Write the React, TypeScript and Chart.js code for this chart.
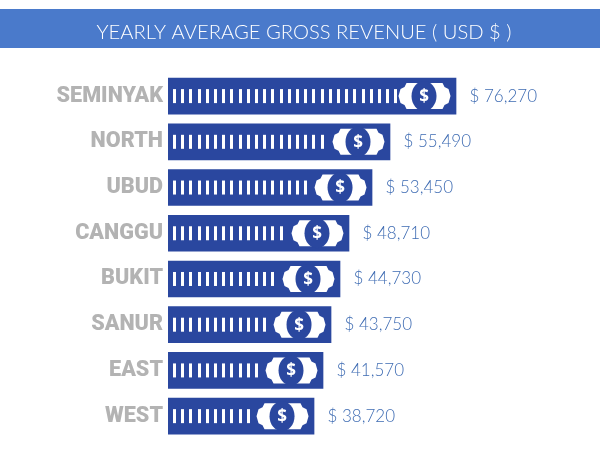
import React, { useEffect, useRef } from "react";
import { Chart, registerables } from "chart.js";

Chart.register(...registerables);

const areas = ["SEMINYAK", "NORTH", "UBUD", "CANGGU", "BUKIT", "SANUR", "EAST", "WEST"];
// Figures printed beside the bars
const revenue = [76270, 55490, 53450, 48710, 44730, 43750, 41570, 38720];
// Bar lengths as drawn in the picture (they do not all track the printed figures)
const barLengths = [76270, 58790, 54030, 47930, 45550, 43170, 41050, 38670];
const chartTitle = "YEARLY AVERAGE GROSS REVENUE ( USD $ )";

const BAR = "#2a479f";
const BANNER = "#4a7acb";
const VALUE = "#3f6cb3";
const LABEL = "#b3b3b3";

const decorate = {
  id: "decorate",
  beforeDraw(chart: any) {
    const { ctx } = chart;
    ctx.save();
    ctx.fillStyle = BANNER;
    ctx.fillRect(0, 9, 600, 39);
    ctx.restore();
  },
  afterDatasetsDraw(chart: any) {
    const { ctx } = chart;
    const bars = chart.getDatasetMeta(0).data;
    bars.forEach((bar: any, i: number) => {
      const xEnd = bar.x;
      const y = bar.y;
      const xBase = bar.base;
      const right = xEnd - 5.5;
      const left = right - 52;
      const cx = left + 25.5;
      ctx.save();
      // tally ticks
      ctx.fillStyle = "#ffffff";
      for (let x = xBase + 5; x < left - 4; x += 8.2) {
        ctx.fillRect(Math.round(x), y - 7, 3, 14);
      }
      // banknote
      ctx.beginPath();
      ctx.moveTo(left + 8, y - 13);
      ctx.lineTo(right - 8, y - 13);
      ctx.lineTo(right - 6, y - 9);
      ctx.lineTo(right - 2, y - 7);
      ctx.lineTo(right, y);
      ctx.lineTo(right - 2, y + 7);
      ctx.lineTo(right - 6, y + 9);
      ctx.lineTo(right - 8, y + 13);
      ctx.lineTo(left + 8, y + 13);
      ctx.lineTo(left + 6, y + 9);
      ctx.lineTo(left + 2, y + 7);
      ctx.lineTo(left, y);
      ctx.lineTo(left + 2, y - 7);
      ctx.lineTo(left + 6, y - 9);
      ctx.closePath();
      ctx.fill();
      // medallion
      ctx.fillStyle = BAR;
      ctx.beginPath();
      ctx.ellipse(cx, y, 12.5, 15, 0, 0, Math.PI * 2);
      ctx.fill();
      ctx.fillStyle = "#ffffff";
      ctx.font = "bold 17px 'Open Sans'";
      ctx.textAlign = "center";
      ctx.textBaseline = "middle";
      ctx.fillText("$", cx, y + 1);
      // value label
      ctx.fillStyle = VALUE;
      ctx.font = "300 17px Lato";
      ctx.textAlign = "left";
      ctx.fillText("$ " + revenue[i].toLocaleString("en-US"), xEnd + 13.5, y);
      ctx.restore();
    });
  },
};

export default function App() {
  const ref = useRef<HTMLCanvasElement>(null);
  useEffect(() => {
    const chart = new Chart(ref.current!, {
      type: "bar",
      data: {
        labels: areas,
        datasets: [{ data: barLengths, backgroundColor: BAR, barThickness: 36, borderWidth: 0 }],
      },
      options: {
        indexAxis: "y",
        animation: false,
        responsive: false,
        layout: { padding: { top: 0, right: 0, bottom: 23, left: 8 } },
        plugins: {
          legend: { display: false },
          tooltip: { enabled: false },
          title: {
            display: true,
            text: chartTitle,
            color: "#ffffff",
            font: { family: "Lato", size: 20.2, weight: "300" },
            padding: { top: 20, bottom: 29 },
          },
        },
        scales: {
          x: { display: false, min: 0, max: 114400 },
          y: {
            afterFit(s: any) {
              s.width = 160;
            },
            grid: { display: false },
            border: { display: false },
            ticks: {
              color: LABEL,
              padding: -3,
              font: { family: "Roboto", size: 21.6, weight: "900" },
            },
          },
        },
      } as any,
      plugins: [decorate],
    });
    return () => chart.destroy();
  }, []);
  return (
    <div style={{ position: "fixed", left: 0, top: 0, width: 600, height: 462, background: "#fff" }}>
      <canvas ref={ref} width={600} height={462} style={{ display: "block" }} />
    </div>
  );
}
